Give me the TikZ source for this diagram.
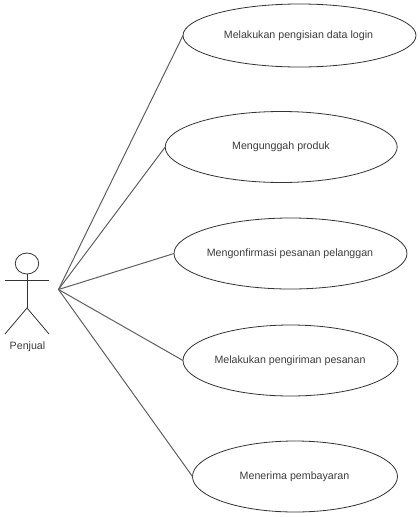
\documentclass[tikz,border=0pt]{standalone}
\usepackage{fontspec}
\setmainfont{Liberation Sans}
\usetikzlibrary{shapes.geometric}
\definecolor{lineC}{RGB}{95,95,95}
\definecolor{textC}{RGB}{60,60,60}
\tikzset{
  usecase/.style={draw=black!80,line width=0.8pt,ellipse,inner sep=0pt,outer sep=0pt,text=textC,font=\fontsize{10.5}{12}\selectfont},
  assoc/.style={draw=lineC,line width=1pt},
  stick/.style={draw=black!80,line width=0.8pt},
  lbl/.style={inner sep=0pt,text=textC,font=\fontsize{10.65}{12}\selectfont}
}
\begin{document}
\begin{tikzpicture}[x=1pt,y=-1pt]
\useasboundingbox (0,0) rectangle (420,517);
\node[usecase,minimum width=233pt,minimum height=63pt] (u1) at (299.5,35.5) {};
\node[usecase,minimum width=232pt,minimum height=71pt] (u2) at (281.2,147) {};
\node[usecase,minimum width=233pt,minimum height=71pt] (u3) at (290.5,253.5) {};
\node[usecase,minimum width=215pt,minimum height=71pt] (u4) at (290.5,360.5) {};
\node[usecase,minimum width=205pt,minimum height=71pt] (u5) at (295,476.5) {};
\node[lbl] at (298.5,35.7) {Melakukan pengisian data login};
\node[lbl] at (281,146.7) {Mengunggah produk};
\node[lbl] at (290,253.7) {Mengonfirmasi pesanan pelanggan};
\node[lbl] at (290,360.7) {Melakukan pengiriman pesanan};
\node[lbl] at (294.5,476.7) {Menerima pembayaran};
\coordinate (hub) at (58.5,289.5);
\foreach \u in {u1,u2,u3,u4,u5} \draw[assoc] (hub) -- (\u.west);
\node[draw=black!80,line width=0.8pt,ellipse,minimum width=23.5pt,minimum height=21pt,inner sep=0pt] (head) at (27,263.5) {};
\coordinate (hip) at (27,308);
\coordinate (armL) at (5,280.5);
\coordinate (armR) at (49,280.5);
\coordinate (legL) at (5,334);
\coordinate (legR) at (49,334);
\draw[stick] (head.south) -- (hip);
\draw[stick] (armL) -- (armR);
\draw[stick] (legL) -- (hip) -- (legR);
\node[lbl] (actor) at (27.5,346.5) {Penjual};
\end{tikzpicture}
\end{document}
